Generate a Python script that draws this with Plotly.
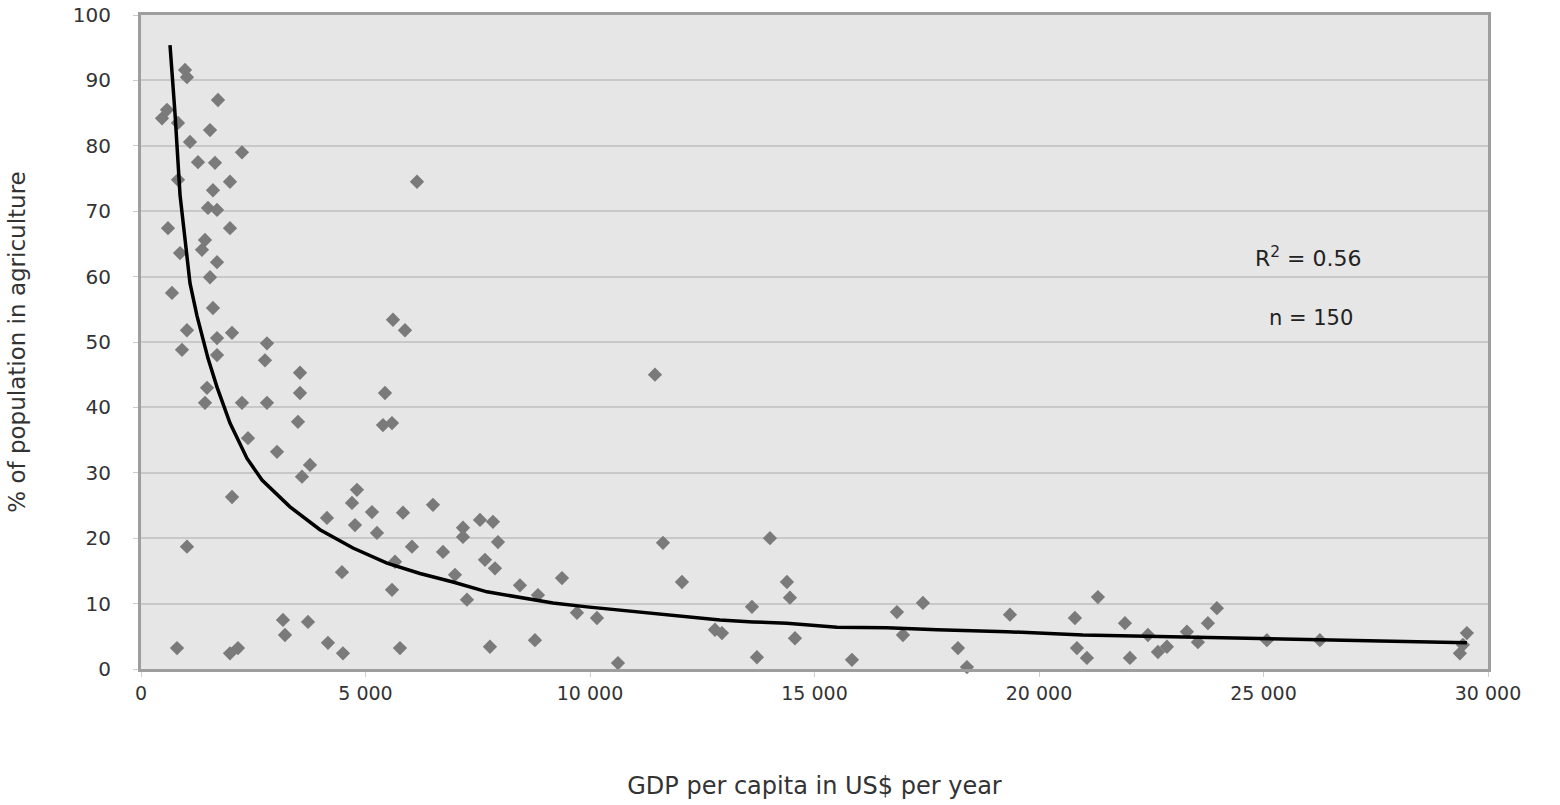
import plotly.graph_objects as go

# GDP per capita (US$) and % of population in agriculture
gdp = [980, 1024, 1715, 579, 468, 824, 1537, 1091, 2249, 1269, 1648, 1982, 824, 1603, 6147,
       1492, 1693, 601, 1982, 1425, 1358, 869, 1693, 1537, 690, 1603, 1024, 2027, 1693, 913,
       1693, 2806, 2761, 5612, 5879, 1470, 1425, 2249, 2806, 3541, 3541, 3496, 5434, 5389, 5590,
       2383, 3029, 3764, 3585, 11447, 4810, 4699, 4142, 5144, 5835, 6503, 7550, 7839, 7171, 7171,
       7950, 6726, 7661, 7884, 6993, 7260, 8440, 8841, 9376, 9710, 10155, 7772, 8774, 10623, 11625,
       12048, 14008, 14386, 14453, 13607, 12783, 12939, 13718, 14565, 2027, 1024, 4766, 5256, 6035,
       4476, 5590, 3162, 3207, 3719, 4164, 4498, 5768, 802, 1982, 2160, 16836, 17415, 16970, 15834,
       18195, 18395, 19353, 20800, 21312, 20845, 21067, 21914, 22025, 22426, 22649, 22849, 23294,
       23539, 23762, 23962, 25076, 26256, 29530, 29374, 29441, 5657]
agri = [91.6, 90.5, 87.0, 85.5, 84.2, 83.5, 82.4, 80.6, 79.0, 77.5, 77.4, 74.5, 74.8, 73.2, 74.5,
        70.5, 70.2, 67.4, 67.4, 65.6, 64.1, 63.6, 62.2, 59.9, 57.5, 55.2, 51.8, 51.4, 50.6, 48.8,
        48.0, 49.8, 47.2, 53.4, 51.8, 43.0, 40.7, 40.7, 40.7, 45.3, 42.2, 37.8, 42.2, 37.3, 37.6,
        35.3, 33.2, 31.2, 29.4, 45.0, 27.4, 25.4, 23.1, 24.0, 23.9, 25.1, 22.8, 22.5, 21.6, 20.2,
        19.4, 17.9, 16.7, 15.4, 14.4, 10.6, 12.8, 11.3, 13.9, 8.6, 7.8, 3.4, 4.4, 0.9, 19.3,
        13.3, 20.0, 13.3, 10.9, 9.5, 6.0, 5.5, 1.8, 4.7, 26.3, 18.7, 22.0, 20.8, 18.7,
        14.8, 12.1, 7.5, 5.2, 7.2, 4.0, 2.4, 3.2, 3.2, 2.4, 3.2, 8.7, 10.1, 5.2, 1.4,
        3.2, 0.3, 8.3, 7.8, 11.0, 3.2, 1.7, 7.0, 1.7, 5.2, 2.6, 3.4, 5.7,
        4.1, 7.0, 9.3, 4.4, 4.4, 5.5, 2.4, 3.7, 16.4]

# Trend line
trend_x = [646, 757, 869, 980, 1091, 1247, 1492, 1693, 1982, 2361, 2695, 3318, 3986, 4721, 5478,
           6213, 6948, 7705, 8440, 9175, 9932, 10667, 11402, 12159, 12894, 13629, 14386, 15500,
           16613, 17727, 19286, 20978, 22982, 25432, 28327, 29530]
trend_y = [95.4, 85.0, 72.5, 65.6, 59.0, 54.0, 47.5, 43.1, 37.6, 32.2, 28.9, 24.8, 21.3, 18.5, 16.2,
           14.6, 13.3, 11.8, 10.9, 10.1, 9.5, 9.0, 8.6, 8.1, 7.5, 7.2, 7.0, 6.4,
           6.3, 6.0, 5.7, 5.2, 4.9, 4.6, 4.1, 4.0]

x_tickvals = [0, 5000, 10000, 15000, 20000, 25000, 30000]
x_ticktext = ["0", "5 000", "10 000", "15 000", "20 000", "25 000", "30 000"]
y_tickvals = [0, 10, 20, 30, 40, 50, 60, 70, 80, 90, 100]

font_family = "DejaVu Sans, Verdana, sans-serif"

fig = go.Figure()
fig.add_trace(go.Scatter(
    x=gdp, y=agri, mode="markers",
    marker=dict(symbol="diamond", size=11, color="#7a7a7a", line=dict(width=0)),
    showlegend=False, cliponaxis=False))
fig.add_trace(go.Scatter(
    x=trend_x, y=trend_y, mode="lines",
    line=dict(color="#000000", width=3.5), showlegend=False))

fig.add_annotation(x=26000, y=63.0, xref="x", yref="y", showarrow=False,
                   text="R<sup>2</sup> = 0.56",
                   font=dict(family=font_family, size=22, color="#222222"))
fig.add_annotation(x=26050, y=53.7, xref="x", yref="y", showarrow=False,
                   text="n = 150",
                   font=dict(family=font_family, size=21, color="#222222"))

fig.update_layout(
    width=1560, height=805,
    margin=dict(l=141, r=72, t=15, b=136, autoexpand=False),
    paper_bgcolor="white",
    plot_bgcolor="#e6e6e6",
    font=dict(family=font_family, color="#333333", size=20),
    xaxis=dict(
        range=[0, 30000], tickvals=x_tickvals, ticktext=x_ticktext,
        showgrid=False, zeroline=False, automargin=False,
        showline=True, linecolor="#9e9e9e", linewidth=3, mirror=True,
        ticks="outside", ticklen=5, tickcolor="#cccccc",
        tickfont=dict(size=19, color="#333333"),
        title=dict(text="GDP per capita in US$ per year", standoff=75,
                   font=dict(size=24, color="#333333")),
    ),
    yaxis=dict(
        range=[0, 100], tickvals=y_tickvals,
        showgrid=True, gridcolor="#c8c8c8", gridwidth=2, zeroline=False, automargin=False,
        showline=True, linecolor="#9e9e9e", linewidth=3, mirror=True,
        ticks="outside", ticklen=5, tickcolor="#cccccc",
        ticklabelstandoff=18,
        tickfont=dict(size=20, color="#333333"),
        title=dict(text="% of population in agriculture", standoff=41,
                   font=dict(size=23, color="#333333")),
    ),
)

fig.write_html("out.html", config={"displayModeBar": False},
               post_script="document.body.style.margin='0';")
